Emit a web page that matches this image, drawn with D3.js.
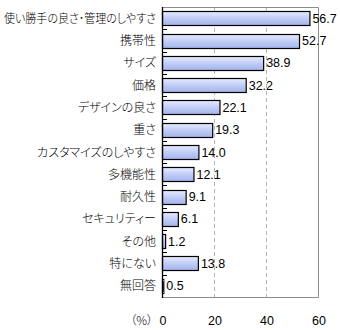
<!DOCTYPE html>
<html>
<head>
<meta charset="utf-8">
<script src="https://cdn.jsdelivr.net/npm/d3@7"></script>
<style>
  html, body { margin: 0; padding: 0; background: #fff; }
  svg { display: block; }
  .cat { font-family: "Noto Sans CJK JP", sans-serif; font-size: 12px; font-weight: 300; font-feature-settings: "palt"; fill: #000; }
  .num { font-family: "Liberation Sans", Arial, sans-serif; font-size: 12.5px; fill: #000; }
</style>
</head>
<body>
<svg id="chart" width="340" height="330"></svg>
<script>
// Survey reasons (%)
const categories = [
  "使い勝手の良さ･管理のしやすさ", "携帯性", "サイズ", "価格", "デザインの良さ", "重さ",
  "カスタマイズのしやすさ", "多機能性", "耐久性", "セキュリティー", "その他", "特にない", "無回答"
];
const values = [56.7, 52.7, 38.9, 32.2, 22.1, 19.3, 14.0, 12.1, 9.1, 6.1, 1.2, 13.8, 0.5];
const xTicks = [0, 20, 40, 60];
const unitLabel = "（%）";

const svg = d3.select("#chart");
const plotLeft = 162, plotRight = 318, plotTop = 7, plotBottom = 297;
const labelRight = 156, labelMaxWidth = 152;

const x = d3.scaleLinear().domain([0, 60]).range([plotLeft, plotRight]);
const y = d3.scaleBand().domain(categories).range([plotTop, plotBottom]).paddingInner(0.37).paddingOuter(0.2);

const defs = svg.append("defs");
const grad = defs.append("linearGradient").attr("id", "barFill")
  .attr("x1", 0).attr("y1", 0).attr("x2", 0).attr("y2", 1);
grad.append("stop").attr("offset", "0%").attr("stop-color", "#e6ecfe");
grad.append("stop").attr("offset", "45%").attr("stop-color", "#c4cff7");
grad.append("stop").attr("offset", "100%").attr("stop-color", "#a2b3ec");

// dashed grid lines
svg.append("g").selectAll("line").data(xTicks.filter(d => d > 0 && d < 60)).join("line")
  .attr("x1", d => x(d) + 0.5).attr("x2", d => x(d) + 0.5)
  .attr("y1", plotTop).attr("y2", plotBottom)
  .attr("stroke", "#b4b4b4").attr("stroke-dasharray", "4,3");

// frame (top, right, bottom)
svg.append("path")
  .attr("d", `M${plotLeft},${plotTop + 0.5}H${plotRight + 0.5}V${plotBottom + 0.5}H${plotLeft}`)
  .attr("fill", "none").attr("stroke", "#8c8c8c");

// bars
svg.append("g").selectAll("rect").data(categories).join("rect")
  .attr("x", x(0) + 0.5)
  .attr("y", d => Math.round(y(d)) + 0.5)
  .attr("width", (d, i) => x(values[i]) - x(0))
  .attr("height", Math.round(y.bandwidth()))
  .attr("fill", "url(#barFill)")
  .attr("stroke", "#000").attr("stroke-width", 1.2);

// value labels
svg.append("g").selectAll("text").data(categories).join("text")
  .attr("class", "num")
  .attr("x", (d, i) => x(values[i]) + 3)
  .attr("y", d => y(d) + y.bandwidth() / 2 + 4.5)
  .text((d, i) => values[i].toFixed(1));

// category axis with inner ticks at band edges
const edges = d3.range(categories.length + 1).map(i => plotTop + i * (plotBottom - plotTop) / categories.length);
svg.append("g").selectAll("line").data(edges.slice(1, -1)).join("line")
  .attr("x1", plotLeft).attr("x2", plotLeft + 5)
  .attr("y1", d => Math.round(d) + 0.5).attr("y2", d => Math.round(d) + 0.5)
  .attr("stroke", "#000");
svg.append("line")
  .attr("x1", plotLeft + 0.5).attr("x2", plotLeft + 0.5)
  .attr("y1", plotTop).attr("y2", plotBottom + 1)
  .attr("stroke", "#000").attr("stroke-width", 1.3);

svg.append("g").selectAll("text").data(categories).join("text")
  .attr("class", "cat")
  .attr("x", labelRight)
  .attr("y", d => y(d) + y.bandwidth() / 2 + 4.5)
  .attr("text-anchor", "end")
  .text(d => d)
  .each(function () {
    // squeeze labels that would run past the left edge
    if (this.getComputedTextLength() > labelMaxWidth) {
      d3.select(this).attr("textLength", labelMaxWidth).attr("lengthAdjust", "spacingAndGlyphs");
    }
  });

// value axis labels
svg.append("g").selectAll("text").data(xTicks).join("text")
  .attr("class", "num")
  .attr("x", d => x(d) + 1)
  .attr("y", 325)
  .attr("text-anchor", "middle")
  .text(d => d);

svg.append("text").attr("class", "cat")
  .attr("x", 153).attr("y", 325).attr("text-anchor", "end")
  .text(unitLabel);
</script>
</body>
</html>
